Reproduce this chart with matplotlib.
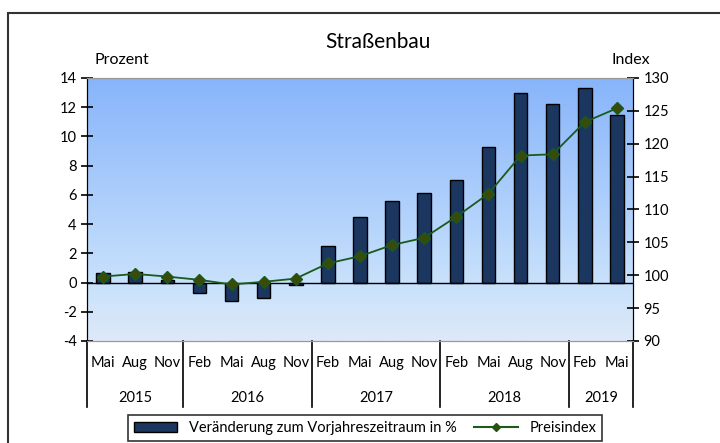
import matplotlib.pyplot as plt
import numpy as np
from matplotlib.lines import Line2D
from matplotlib.patches import Patch, Rectangle

plt.rcParams['font.family'] = ['Lato', 'DejaVu Sans']
plt.rcParams['axes.unicode_minus'] = False

months = ["Mai", "Aug", "Nov", "Feb", "Mai", "Aug", "Nov", "Feb", "Mai",
          "Aug", "Nov", "Feb", "Mai", "Aug", "Nov", "Feb", "Mai"]
years = ["2015", "2016", "2017", "2018", "2019"]
year_counts = [3, 4, 4, 4, 2]
change_pct = [0.64, 0.75, 0.2, -0.73, -1.26, -1.05, -0.2, 2.51, 4.5,
              5.55, 6.16, 6.99, 9.29, 13.0, 12.19, 13.33, 11.46]
price_index = [99.8, 100.2, 99.8, 99.3, 98.6, 99.0, 99.5, 101.8, 102.9,
               104.6, 105.7, 108.9, 112.4, 118.2, 118.4, 123.3, 125.4]

fig = plt.figure(figsize=(7.2, 4.43), dpi=100)
# outer chart frame (runs off the right and bottom edges)
fig.patches.append(Rectangle((8 / 720, -0.1), 1.2, 1.1 - 13 / 443, transform=fig.transFigure,
                             fill=False, edgecolor="#333333", linewidth=1.5))
ax = fig.add_axes([87 / 720, 1 - 341 / 443, (633 - 87) / 720, (341 - 78) / 443])
ax2 = ax.twinx()

n = len(months)
x = np.arange(n)

# gradient background
grad = np.linspace(0, 1, 256).reshape(-1, 1)
top = np.array([135, 180, 250]) / 255
mid = np.array([200, 225, 252]) / 255
bot = np.array([222, 233, 248]) / 255
cols = np.where(grad[..., None] < 0.78,
                top + (mid - top) * (grad[..., None] / 0.78),
                mid + (bot - mid) * ((grad[..., None] - 0.78) / 0.22))
ax.imshow(cols, extent=[-0.5, n - 0.5, -4, 14], aspect="auto", zorder=0)

ax.bar(x, change_pct, width=0.42, color="#1b365f", edgecolor="black", linewidth=1, zorder=2)
ax.axhline(0, color="black", linewidth=1, zorder=3)
ax2.plot(x, price_index, color="#1a5a1a", linewidth=1.3, marker="D", markersize=6,
         markerfacecolor="#3b4a08", markeredgecolor="#1a5a1a", zorder=4)

ax.set_xlim(-0.5, n - 0.5)
ax.set_ylim(-4, 14)
ax.set_yticks(range(-4, 15, 2))
ax2.set_ylim(90, 130)
ax2.set_yticks(range(90, 131, 5))

for a in (ax, ax2):
    a.spines["top"].set_color("#999999")
    a.spines["bottom"].set_color("#999999")
    a.spines["left"].set_color("black")
    a.spines["right"].set_color("black")
    a.tick_params(axis="y", direction="inout", length=8, width=1.2, labelsize=10.5)

ax.set_xticks([])
ax.tick_params(axis="x", length=0)

# category labels
for i, m in enumerate(months):
    ax.text(i, -0.085, m, transform=ax.get_xaxis_transform(), ha="center", va="center", fontsize=10.5)

bounds = [-0.5]
for c in year_counts:
    bounds.append(bounds[-1] + c)
for b in bounds:
    ax.plot([b, b], [0, -0.25], transform=ax.get_xaxis_transform(), color="black",
            linewidth=1.2, clip_on=False)
for j, yr in enumerate(years):
    ax.text((bounds[j] + bounds[j + 1]) / 2, -0.215, yr, transform=ax.get_xaxis_transform(),
            ha="center", va="center", fontsize=10.5)

fig.text(378 / 720, 1 - 42 / 443, "Straßenbau", ha="center", va="center", fontsize=15)
fig.text(95 / 720, 1 - 60 / 443, "Prozent", ha="left", va="center", fontsize=11.5)
fig.text(650 / 720, 1 - 60 / 443, "Index", ha="right", va="center", fontsize=11.5)

handles = [Patch(facecolor="#1b365f", edgecolor="black"),
           Line2D([], [], color="#1a5a1a", marker="D", markersize=4,
                  markerfacecolor="#3b4a08", markeredgecolor="#1a5a1a")]
leg = fig.legend(handles, ["Veränderung zum Vorjahreszeitraum in %", "Preisindex"],
                 loc="upper center", bbox_to_anchor=(365 / 720, 1 - 408 / 443), ncol=2,
                 frameon=True, fancybox=False, edgecolor="black", fontsize=10.5,
                 handlelength=3, columnspacing=1.2, borderpad=0.4)
leg.get_frame().set_linewidth(1.2)

fig.savefig("out.png", dpi=100)
